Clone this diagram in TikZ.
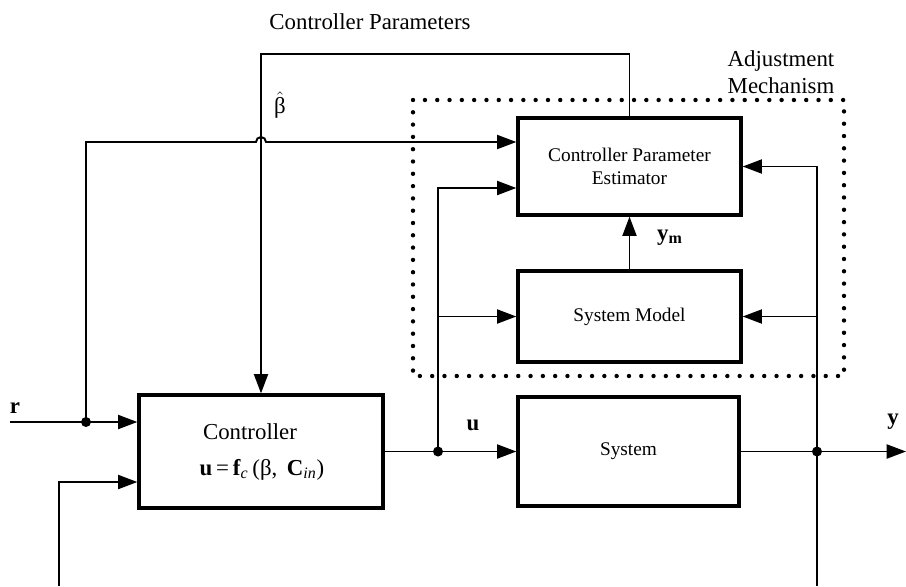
\documentclass[tikz,border=0pt]{standalone}
\usepackage{amsmath}
\usepackage{fontspec}
\setmainfont{Liberation Serif}
\usetikzlibrary{arrows.meta,positioning,calc}

\tikzset{
  block/.style={draw, line width=1.9pt, inner sep=0pt, align=center,
    font=\fontsize{11}{13}\selectfont},
  sigline/.style={line width=1.1pt},
  arr/.style={sigline, -{Triangle[length=11pt,width=8pt]}},
  lbl/.style={inner sep=0pt, font=\fontsize{13}{15.5}\selectfont},
  sig/.style={inner sep=0pt, font=\fontsize{13}{15}\selectfont\bfseries},
  adjbox/.style={line width=2.5pt, dash pattern=on 0pt off 7pt, line cap=round},
}

\begin{document}
\begin{tikzpicture}[x=0.02cm, y=-0.02cm]
\useasboundingbox (0,0) rectangle (906,586);
% Blocks
\node[block, minimum width=4.88cm, minimum height=2.26cm] (ctrl) at (261,451.5) {};
\node[block, minimum width=4.42cm, minimum height=2.18cm] (sys) at (628.5,451.5) {System};
\node[block, minimum width=4.46cm, minimum height=1.82cm] (model) at (629.5,316.5) {System Model};
\node[block, minimum width=4.46cm, minimum height=1.94cm] (est) at (629.5,166.5) {Controller Parameter\\Estimator};
\node[lbl] (ctrltxt) at (250,432) {Controller};
\node[lbl] (ctrleq) at (262,470) {\textbf{u}\,=\,\textbf{f}\textsubscript{\textit{c}}\,(β,\, \textbf{C}\textsubscript{\textit{in}})};
% Adjustment mechanism
\draw[adjbox] (413,100) rectangle (844,376);
\node[lbl, align=left] (adjtxt) at (781,72) {Adjustment\\Mechanism};
% Junctions
\coordinate (rin) at (10,422);
\coordinate (rj) at (86,422);
\coordinate (rup) at (86,142);
\coordinate (uj) at (438,451.5);
\coordinate (yj) at (817,451.5);
\coordinate (yout) at (906,451.5);
\coordinate (fbl) at (59,586);
\foreach \j in {rj,uj,yj} {
  \fill (\j) circle (5);
}
% Main loop
\draw[arr] (rin) -- (rj) -- (ctrl.west |- rj);
\draw[arr] (ctrl.east) -- (uj) -- (sys.west);
\draw[arr] (sys.east) -- (yj) -- (yout);
\draw[sigline] (yj) -- (yj |- fbl);
\draw[arr] (fbl) |- ($(ctrl.west)+(0,30.5)$);
% Adjustment signals
\draw[arr] (rj) -- (rup) -- ($(ctrl.north |- rup)+(-5,0)$)
  arc[start angle=180, end angle=360, radius=5] -- (est.west |- rup);
\draw[arr] (uj) |- ($(est.west)+(0,21.5)$);
\draw[arr] (uj |- model.west) -- (model.west);
\draw[arr] (yj) |- (est.east);
\draw[arr] (yj |- model.east) -- (model.east);
\draw[arr] (model.north) -- (est.south);
\draw[arr] (est.north) -- ++(0,-62) -| (ctrl.north);
% Labels
\node[sig] (rlbl) at (15,408) {r};
\node[sig] (ulbl) at (473,425) {u};
\node[sig] (ylbl) at (893,422) {y};
\node[sig] (ymlbl) at (670,238) {y\textsubscript{m}};
\node[lbl] (cplbl) at (370,22) {Controller Parameters};
\node[lbl] (bhat) at (280,105) {$\hat{\text{β}}$};
\end{tikzpicture}
\end{document}
